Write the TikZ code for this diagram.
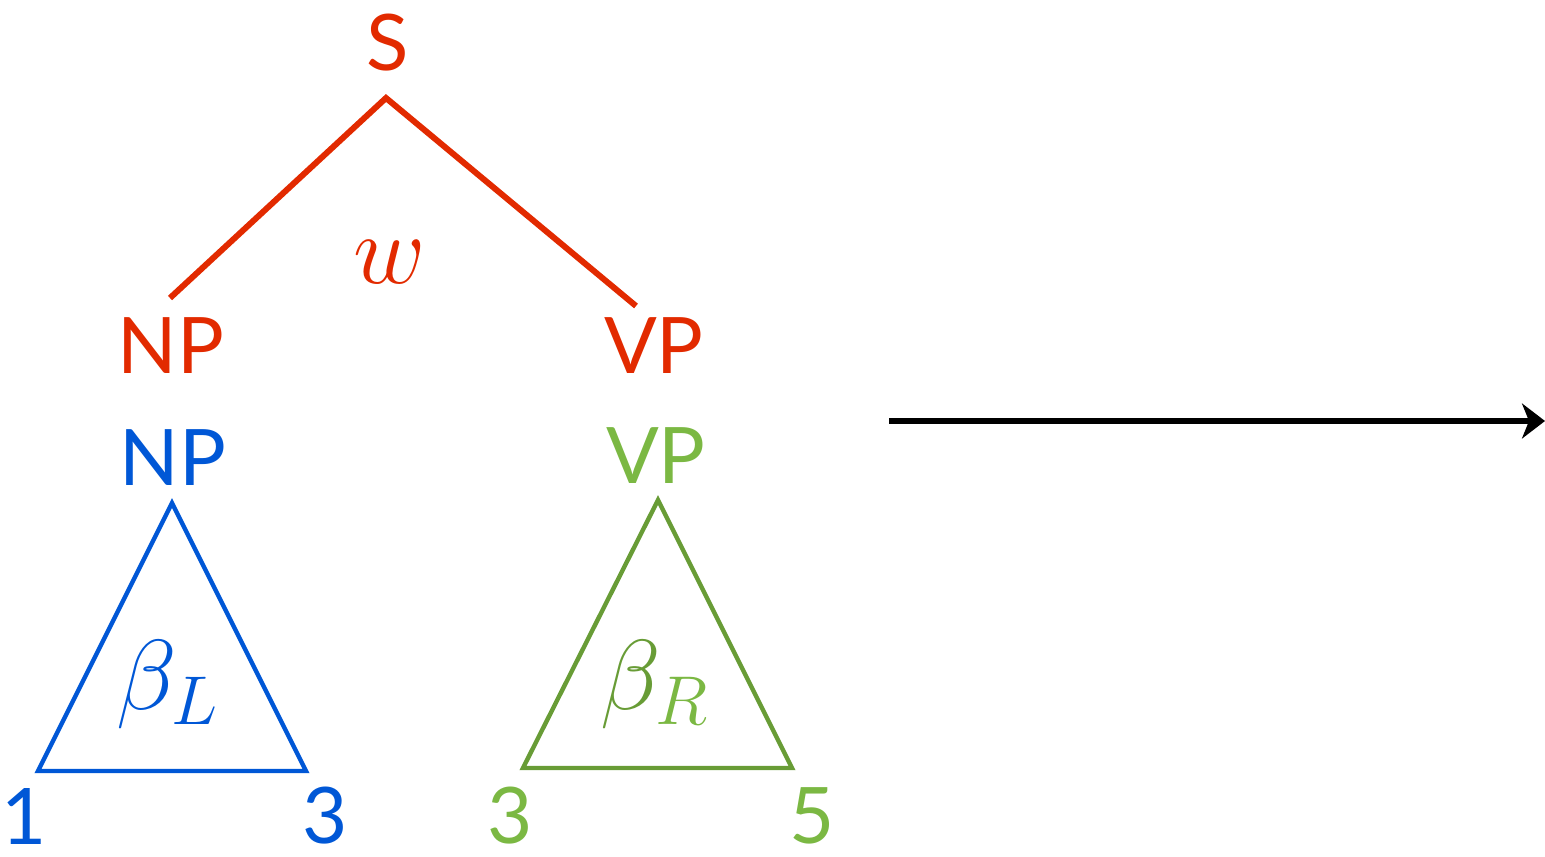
\documentclass[tikz,border=0pt]{standalone}
\usepackage{graphicx}
\usepackage{fontspec}
\setmainfont{Lato}
\usepackage{xcolor}
\usetikzlibrary{arrows.meta}
\definecolor{treered}{HTML}{E22A00}
\definecolor{leftblue}{HTML}{0057D6}
\definecolor{rightgreen}{HTML}{7BB843}
\definecolor{rightdark}{HTML}{689C36}
\newcommand{\bigmath}[1]{\scalebox{2}{\Huge$#1$}}

\begin{document}
\begin{tikzpicture}[
  x=0.5pt,
  y=-0.5pt,
  every node/.style={inner sep=0pt, font=\fontsize{39}{39}\selectfont},
  branch/.style={treered, line width=3pt},
  spine/.style={line width=2.2pt, line join=miter},
  link/.style={black, line width=3pt,
    -{Stealth[length=11.5pt, width=17.5pt, inset=3.5pt]}}
]
  \useasboundingbox (0,0) rectangle (1545,856);

  % ================= the elementary tree =================================
  \node[treered] (s) at (388,43) {S};
  \node[treered] (np1) at (171,346) {NP};
  \node[treered] (vp1) at (654,346) {VP};
  \node[treered] (weight) at (390,262) {\bigmath{w}};

  \coordinate (top) at (386,98);
  \coordinate (lend) at (170,298);
  \coordinate (rend) at (636,306);
  \draw[branch] (lend) -- (top) -- (rend);

  % ================= the two subtrees ====================================
  \node[leftblue] (np2) at (173,458) {NP};
  \node[rightgreen] (vp2) at (656,456) {VP};

  \draw[spine, leftblue] (172,503) -- (306,771) -- (38,771) -- cycle;
  \draw[spine, rightdark] (658,500) -- (792,768) -- (523,768) -- cycle;

  % subscripts are set small, as in the slide
  \node[leftblue] (betal) at (168,685)
    {\bigmath{\beta_{\scriptscriptstyle L}}};
  \node[rightdark] (betar) at (655,685)
    {\bigmath{\beta_{\scriptscriptstyle\textcolor{rightgreen}{R}}}};

  % spans under the triangles
  \node[leftblue] (i1) at (24,816) {1};
  \node[leftblue] (j1) at (325,816) {3};
  \node[rightgreen] (i2) at (510,816) {3};
  \node[rightgreen] (j2) at (812,816) {5};

  % ================= the arrow ==========================================
  \coordinate (from) at (889,421);
  \coordinate (to) at (1545,421);
  \draw[link] (from) -- (to);
\end{tikzpicture}
\end{document}
